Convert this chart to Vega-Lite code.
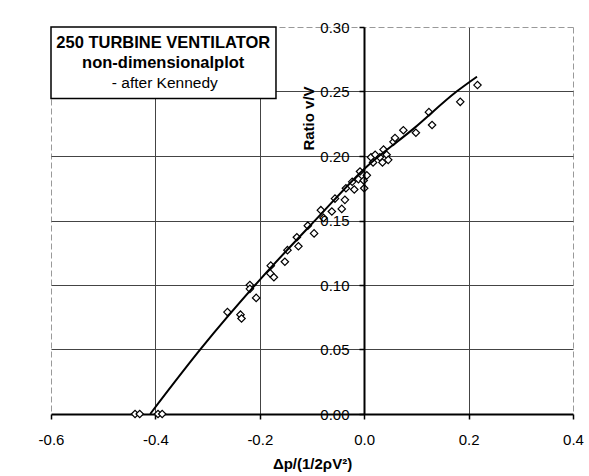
{
  "$schema": "https://vega.github.io/schema/vega-lite/v6.json",
  "width": 522,
  "height": 387,
  "autosize": {"type": "none"},
  "padding": {"left": 51, "top": 27, "right": 16, "bottom": 62},
  "background": "white",
  "config": {
    "font": "Liberation Sans",
    "view": {"stroke": null},
    "axis": {
      "labelFont": "Liberation Sans",
      "labelFontSize": 15,
      "labelColor": "black",
      "titleFont": "Liberation Sans",
      "titleFontSize": 15,
      "titleFontWeight": "bold",
      "titleColor": "black",
      "domainColor": "black",
      "tickColor": "black",
      "labelOverlap": false
    }
  },
  "datasets": {
    "points": [
      {"dp": -0.439, "ratio": 0.0},
      {"dp": -0.43, "ratio": 0.0},
      {"dp": -0.395, "ratio": 0.0},
      {"dp": -0.387, "ratio": 0.0},
      {"dp": -0.262, "ratio": 0.079},
      {"dp": -0.237, "ratio": 0.077},
      {"dp": -0.235, "ratio": 0.074},
      {"dp": -0.219, "ratio": 0.1},
      {"dp": -0.219, "ratio": 0.097},
      {"dp": -0.207, "ratio": 0.09},
      {"dp": -0.18, "ratio": 0.109},
      {"dp": -0.173, "ratio": 0.106},
      {"dp": -0.179, "ratio": 0.115},
      {"dp": -0.152, "ratio": 0.118},
      {"dp": -0.147, "ratio": 0.127},
      {"dp": -0.126, "ratio": 0.13},
      {"dp": -0.129, "ratio": 0.137},
      {"dp": -0.108, "ratio": 0.146},
      {"dp": -0.096, "ratio": 0.14},
      {"dp": -0.083, "ratio": 0.158},
      {"dp": -0.078, "ratio": 0.152},
      {"dp": -0.062, "ratio": 0.157},
      {"dp": -0.056, "ratio": 0.167},
      {"dp": -0.043, "ratio": 0.159},
      {"dp": -0.037, "ratio": 0.166},
      {"dp": -0.035, "ratio": 0.175},
      {"dp": -0.019, "ratio": 0.174},
      {"dp": -0.023, "ratio": 0.18},
      {"dp": -0.011, "ratio": 0.182},
      {"dp": -0.008, "ratio": 0.188},
      {"dp": -0.001, "ratio": 0.181},
      {"dp": 0.0, "ratio": 0.175},
      {"dp": 0.005, "ratio": 0.185},
      {"dp": 0.013, "ratio": 0.199},
      {"dp": 0.017, "ratio": 0.195},
      {"dp": 0.021, "ratio": 0.201},
      {"dp": 0.03, "ratio": 0.199},
      {"dp": 0.037, "ratio": 0.205},
      {"dp": 0.035, "ratio": 0.195},
      {"dp": 0.043, "ratio": 0.201},
      {"dp": 0.046, "ratio": 0.197},
      {"dp": 0.056, "ratio": 0.211},
      {"dp": 0.059, "ratio": 0.214},
      {"dp": 0.075, "ratio": 0.22},
      {"dp": 0.099, "ratio": 0.218},
      {"dp": 0.124, "ratio": 0.234},
      {"dp": 0.13, "ratio": 0.224},
      {"dp": 0.184, "ratio": 0.242},
      {"dp": 0.217, "ratio": 0.255}
    ],
    "curve": [
      {"dp": -0.41, "ratio": 0.0},
      {"dp": -0.312, "ratio": 0.051},
      {"dp": -0.2, "ratio": 0.104},
      {"dp": -0.085, "ratio": 0.154},
      {"dp": 0.0, "ratio": 0.19},
      {"dp": 0.097, "ratio": 0.222},
      {"dp": 0.177, "ratio": 0.25},
      {"dp": 0.216, "ratio": 0.2615}
    ],
    "box": [
      {"x1": -0.6, "x2": -0.169, "y1": 0.2445, "y2": 0.3}
    ],
    "boldText": [
      {"x": -0.385, "y": 0.2876, "text": "250 TURBINE VENTILATOR"},
      {"x": -0.385, "y": 0.2721, "text": "non-dimensionalplot"}
    ],
    "plainText": [
      {"x": -0.382, "y": 0.2566, "text": "- after Kennedy"}
    ]
  },
  "layer": [
    {
      "data": {"name": "points"},
      "mark": {"type": "point", "shape": "diamond", "filled": true, "fill": "white", "stroke": "black", "strokeWidth": 1.2, "size": 55, "opacity": 1},
      "encoding": {
        "x": {
          "field": "dp", "type": "quantitative",
          "scale": {"domain": [-0.6, 0.4], "nice": false, "zero": false},
          "axis": {
            "orient": "bottom",
            "values": [-0.6, -0.4, -0.2, 0, 0.2, 0.4],
            "format": ".1f",
            "labelExpr": "replace(datum.label, '\u2212', '-')",
            "labelFlush": false,
            "grid": true,
            "gridColor": {"condition": {"test": "datum.value < -0.55 || datum.value > 0.35", "value": "#999999"}, "value": "#444444"},
            "gridDash": {"condition": {"test": "datum.value < -0.55 || datum.value > 0.35", "value": [6, 3]}, "value": []},
            "gridWidth": 1,
            "domainWidth": 2,
            "tickSize": 5,
            "tickWidth": 1.5,
            "labelPadding": 13,
            "title": "Δp/(1/2ρV²)",
            "titlePadding": 9,
            "zindex": 0
          }
        },
        "y": {
          "field": "ratio", "type": "quantitative",
          "scale": {"domain": [0, 0.3], "nice": false},
          "axis": {
            "orient": "right",
            "values": [0.05, 0.1, 0.15, 0.2, 0.25, 0.3],
            "grid": true,
            "gridColor": {"condition": {"test": "datum.value > 0.28", "value": "#999999"}, "value": "#444444"},
            "gridDash": {"condition": {"test": "datum.value > 0.28", "value": [6, 3]}, "value": []},
            "gridWidth": 1,
            "domain": false,
            "ticks": false,
            "labels": false,
            "title": null,
            "zindex": 0
          }
        }
      }
    },
    {
      "data": {"name": "curve"},
      "mark": {"type": "line", "color": "black", "strokeWidth": 2, "interpolate": "monotone"},
      "encoding": {
        "x": {"field": "dp", "type": "quantitative", "scale": {"domain": [-0.6, 0.4], "nice": false, "zero": false}, "axis": null},
        "y": {
          "field": "ratio", "type": "quantitative",
          "scale": {"domain": [0, 0.3], "nice": false},
          "axis": {
            "orient": "left",
            "offset": -313,
            "values": [0, 0.05, 0.1, 0.15, 0.2, 0.25, 0.3],
            "format": ".2f",
            "grid": false,
            "domainWidth": 2,
            "tickSize": 5,
            "tickWidth": 1.5,
            "labelPadding": 10,
            "title": "Ratio v/V",
            "titleAngle": -90,
            "titleX": -56,
            "titleY": 91,
            "titleAlign": "center",
            "titleBaseline": "middle",
            "zindex": 1
          }
        }
      }
    },
    {
      "data": {"name": "box"},
      "mark": {"type": "rect", "fill": "white", "stroke": "black", "strokeWidth": 1.5},
      "encoding": {
        "x": {"field": "x1", "type": "quantitative", "axis": null},
        "x2": {"field": "x2"},
        "y": {"field": "y1", "type": "quantitative", "axis": null},
        "y2": {"field": "y2"}
      }
    },
    {
      "data": {"name": "boldText"},
      "mark": {"type": "text", "font": "Liberation Sans", "fontSize": 16.5, "fontWeight": "bold", "color": "black", "align": "center", "baseline": "middle"},
      "encoding": {
        "x": {"field": "x", "type": "quantitative", "axis": null},
        "y": {"field": "y", "type": "quantitative", "axis": null},
        "text": {"field": "text"}
      }
    },
    {
      "data": {"name": "plainText"},
      "mark": {"type": "text", "font": "Liberation Sans", "fontSize": 15.5, "color": "black", "align": "center", "baseline": "middle"},
      "encoding": {
        "x": {"field": "x", "type": "quantitative", "axis": null},
        "y": {"field": "y", "type": "quantitative", "axis": null},
        "text": {"field": "text"}
      }
    }
  ],
  "resolve": {"axis": {"x": "independent", "y": "independent"}}
}
